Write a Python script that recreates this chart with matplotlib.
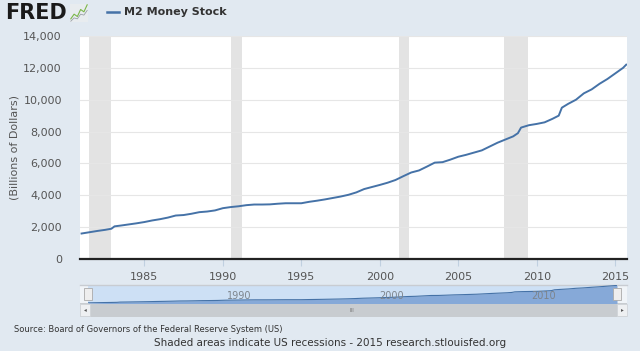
import numpy as np
import matplotlib
matplotlib.use("Agg")
import matplotlib.pyplot as plt
from matplotlib.patches import Rectangle

# M2 money stock, billions of dollars
years = [1981.0, 1981.5, 1982.0, 1982.5, 1982.9, 1983.1, 1983.5, 1984.0, 1984.5,
         1985.0, 1985.5, 1986.0, 1986.5, 1987.0, 1987.5, 1988.0, 1988.5, 1989.0,
         1989.5, 1990.0, 1990.5, 1991.0, 1991.5, 1992.0, 1992.5, 1993.0, 1993.5,
         1994.0, 1994.5, 1995.0, 1995.5, 1996.0, 1996.5, 1997.0, 1997.5, 1998.0,
         1998.5, 1999.0, 1999.5, 2000.0, 2000.5, 2001.0, 2001.5, 2002.0, 2002.5,
         2003.0, 2003.5, 2004.0, 2004.5, 2005.0, 2005.5, 2006.0, 2006.5, 2007.0,
         2007.5, 2008.0, 2008.5, 2008.8, 2009.0, 2009.5, 2010.0, 2010.5, 2011.0,
         2011.4, 2011.6, 2012.0, 2012.5, 2013.0, 2013.5, 2014.0, 2014.5, 2015.0,
         2015.5, 2015.7]
m2 = [1600, 1680, 1760, 1830, 1900, 2050, 2100, 2170, 2240,
      2320, 2420, 2500, 2600, 2730, 2760, 2840, 2940, 2980,
      3050, 3190, 3260, 3310, 3380, 3420, 3420, 3430, 3470,
      3500, 3500, 3500, 3590, 3660, 3740, 3830, 3920, 4030,
      4180, 4390, 4520, 4650, 4790, 4960, 5200, 5430, 5560,
      5800, 6050, 6080, 6240, 6420, 6540, 6680, 6820, 7060,
      7300, 7500, 7700, 7900, 8250, 8400, 8480, 8580, 8800,
      9000, 9500, 9740, 10000, 10400, 10650, 11000, 11300, 11650,
      12000, 12200]
recessions = [(1981.5, 1982.85), (1990.55, 1991.2), (2001.2, 2001.85), (2007.9, 2009.45)]
xticks = [1985, 1990, 1995, 2000, 2005, 2010, 2015]
yticks = [0, 2000, 4000, 6000, 8000, 10000, 12000, 14000]
nav_ticks = [1990, 2000, 2010]

bg = '#e1e9f1'
line_c = '#4572a7'
txt_c = '#555555'

fig = plt.figure(figsize=(6.4, 3.51), dpi=100)
fig.patch.set_facecolor(bg)

W, H = 640, 351
def fx(px):
    return px / W
def fy(py):
    return 1 - py / H

# main chart
ax = fig.add_axes([fx(80), fy(259), fx(627) - fx(80), fy(36) - fy(259)])
ax.set_facecolor('white')
for a, b in recessions:
    ax.axvspan(a, b, color='#e3e3e3', lw=0, zorder=0)
ax.plot(years, m2, color=line_c, lw=1.4, zorder=3)
ax.set_xlim(1980.9, 2015.75)
ax.set_ylim(0, 14000)
ax.set_yticks(yticks)
ax.set_yticklabels(['{:,}'.format(v) for v in yticks], color=txt_c, fontsize=8)
ax.set_xticks(xticks)
ax.set_xticklabels([str(v) for v in xticks], color=txt_c, fontsize=8)
ax.grid(axis='y', color='#e6e6e6', lw=0.8, zorder=1)
ax.tick_params(axis='y', length=0, pad=13)
ax.tick_params(axis='x', length=5, color='#c0d0e0', pad=4)
for s in ['top', 'right', 'left']:
    ax.spines[s].set_visible(False)
ax.spines['bottom'].set_color('#222222')
ax.spines['bottom'].set_linewidth(1.6)
fig.text(fx(15), fy(147), '(Billions of Dollars)', color=txt_c, fontsize=8,
         rotation=90, ha='center', va='center')

# navigator background and scrollbar
fig.add_artist(Rectangle((fx(80), fy(303)), fx(627) - fx(80), fy(285) - fy(303),
                         transform=fig.transFigure, facecolor='#f0f4f8', edgecolor='none'))
fig.add_artist(Rectangle((fx(88), fy(303)), fx(617) - fx(88), fy(285) - fy(303),
                         transform=fig.transFigure, facecolor='#cde0f5', edgecolor='none'))
fig.add_artist(plt.Line2D([fx(80), fx(627)], [fy(285), fy(285)], transform=fig.transFigure,
                          color='#c8ccd2', lw=1))
fig.add_artist(Rectangle((fx(80), fy(317)), fx(627) - fx(80), fy(303) - fy(317),
                         transform=fig.transFigure, facecolor='#c8ccd0', edgecolor='none'))
for x0 in (80, 617):
    fig.add_artist(Rectangle((fx(x0), fy(316)), fx(10), fy(304) - fy(316),
                             transform=fig.transFigure, facecolor='#eef0f2',
                             edgecolor='#d0d4d8', lw=0.6))
fig.text(fx(85), fy(310), '◂', fontsize=4, color='#555555', ha='center', va='center')
fig.text(fx(622), fy(310), '▸', fontsize=4, color='#555555', ha='center', va='center')
fig.text(fx(352), fy(310), 'III', fontsize=4, color='#777777', ha='center', va='center')

nav = fig.add_axes([fx(88), fy(303), fx(617) - fx(88), fy(285) - fy(303)])
nav.set_zorder(3)
nav.patch.set_alpha(0)
nav.fill_between(years, m2, 0, color='#86a9d8', lw=0)
nav.plot(years, m2, color=line_c, lw=0.8)
nav.set_xlim(years[0], years[-1])
nav.set_ylim(1500, 12400)
nav.axis('off')
for t in nav_ticks:
    nav.text(t + 0.9, 6000, str(t), color='#7d848c', fontsize=7, ha='center', va='center')
for x0 in (84, 613):
    fig.add_artist(Rectangle((fx(x0), fy(300)), fx(8), fy(288) - fy(300),
                             transform=fig.transFigure, facecolor='#eeeeee',
                             edgecolor='#aaaaaa', lw=0.6, zorder=5))

# header
fig.text(fx(5), fy(13), 'FRED', fontsize=15, fontweight='heavy', color='#1a1a1a',
         va='center', ha='left')
icon = fig.add_axes([fx(70), fy(22), fx(18), fy(4) - fy(22)])
icon.set_facecolor('#e8ecef')
icon.plot([0, 1, 2, 3, 4, 5], [1, 2, 1.5, 3, 2.5, 4], color='#7ab648', lw=0.8)
icon.plot([0, 1, 2, 3, 4, 5], [0.5, 1.2, 1.0, 2.0, 1.8, 2.8], color='#9aa0a6', lw=0.6)
icon.set_xticks([]); icon.set_yticks([])
for s in icon.spines.values():
    s.set_visible(False)
fig.add_artist(plt.Line2D([fx(107), fx(119)], [fy(12), fy(12)], transform=fig.transFigure,
                          color=line_c, lw=1.8))
fig.text(fx(124), fy(12), 'M2 Money Stock', fontsize=8, fontweight='bold', color='#333333',
         va='center', ha='left')

# footer
fig.text(fx(14), fy(329), 'Source: Board of Governors of the Federal Reserve System (US)',
         fontsize=6, color='#333333', va='center', ha='left')
fig.text(fx(330), fy(343), 'Shaded areas indicate US recessions - 2015 research.stlouisfed.org',
         fontsize=7.5, color='#333333', va='center', ha='center')

fig.savefig('out.png', dpi=100, facecolor=bg)
